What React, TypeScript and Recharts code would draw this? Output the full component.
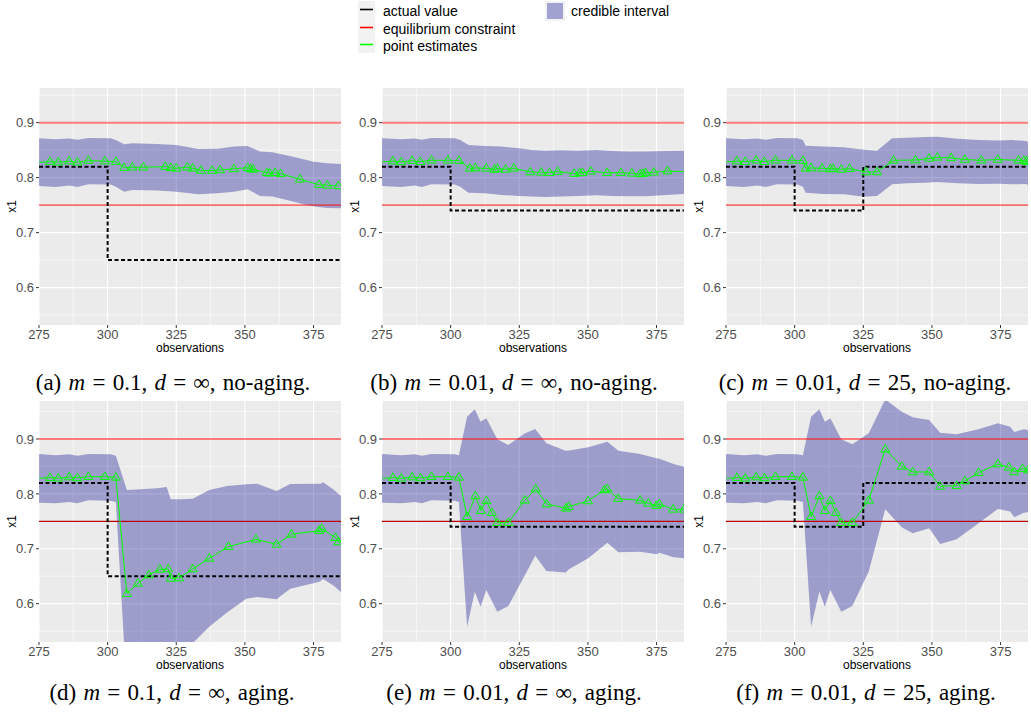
import React from 'react';
import { Area, CartesianGrid, ComposedChart, Line, ReferenceLine, XAxis, YAxis } from 'recharts';

const X_TICKS = [275, 300, 325, 350, 375];
const X_MINOR = [287.5, 312.5, 337.5, 362.5];
const Y_TICKS = [0.6, 0.7, 0.8, 0.9];
const Y_MINOR = [0.55, 0.65, 0.75, 0.85, 0.95];
const CONSTRAINT = [0.9, 0.75];

// (a) m = 0.1, d = inf, no-aging
const BAND_A_X = [275, 281, 286, 289, 293, 301, 303, 306, 309, 318, 325, 333, 340, 346, 351, 355.5, 360, 367.5, 372.5, 375, 377.5, 380, 385];
const BAND_A_HI = [0.8715, 0.8697, 0.871, 0.869, 0.872, 0.8715, 0.8685, 0.8606, 0.8624, 0.8612, 0.8594, 0.852, 0.8527, 0.8564, 0.8576, 0.8473, 0.8461, 0.838, 0.832, 0.829, 0.8275, 0.826, 0.8248];
const BAND_A_LO = [0.7848, 0.783, 0.7855, 0.783, 0.7879, 0.7873, 0.7836, 0.7745, 0.7776, 0.7764, 0.7745, 0.7697, 0.7715, 0.7745, 0.7788, 0.7667, 0.7655, 0.7564, 0.7503, 0.748, 0.746, 0.745, 0.7442];
const EST_A_X = [275, 279, 282, 286, 289, 293, 299, 303, 306, 309, 313, 321, 323, 325, 329, 331, 334, 338, 341, 346, 351, 352, 353, 358, 359, 361, 363, 370, 377, 380, 384];
const EST_A_Y = [0.828, 0.829, 0.828, 0.830, 0.828, 0.831, 0.830, 0.829, 0.818, 0.819, 0.819, 0.820, 0.818, 0.817, 0.819, 0.817, 0.813, 0.813, 0.814, 0.816, 0.818, 0.816, 0.815, 0.809, 0.808, 0.809, 0.807, 0.797, 0.787, 0.786, 0.785];

// (b) m = 0.01, d = inf, no-aging
const BAND_B_X = [275, 282, 287, 289.5, 293, 301.5, 303.5, 306.5, 312.5, 318.5, 325, 329.5, 334.5, 340.5, 346.5, 353, 359, 365, 371, 378.5, 385];
const BAND_B_HI = [0.8715, 0.8697, 0.871, 0.869, 0.872, 0.8715, 0.8685, 0.8594, 0.8576, 0.8564, 0.8533, 0.8503, 0.849, 0.8497, 0.849, 0.8503, 0.8485, 0.8473, 0.8473, 0.8485, 0.849];
const BAND_B_LO = [0.7848, 0.783, 0.7855, 0.783, 0.7879, 0.7873, 0.7836, 0.7727, 0.7715, 0.7685, 0.7667, 0.7655, 0.7648, 0.7655, 0.7667, 0.7679, 0.7667, 0.7661, 0.7661, 0.7685, 0.7703];
const EST_B_X = [275, 279, 282, 286, 289, 293, 299, 303, 307, 309, 313, 316, 317, 320, 323, 329, 333, 336, 339, 345, 347, 348, 351, 357, 362, 366, 369, 370, 371, 374, 379, 386];
const EST_B_Y = [0.8285, 0.830, 0.8285, 0.831, 0.829, 0.8315, 0.8315, 0.831, 0.817, 0.8176, 0.817, 0.815, 0.8164, 0.815, 0.817, 0.8103, 0.8097, 0.809, 0.811, 0.8073, 0.8085, 0.809, 0.8115, 0.809, 0.809, 0.8079, 0.8067, 0.8073, 0.8085, 0.8097, 0.8121, 0.8103];

// (c) m = 0.01, d = 25, no-aging
const BAND_C_X = [275, 281.5, 286.5, 289.5, 293.5, 301, 303, 304, 310.5, 318, 323, 326.5, 330, 335.5, 341, 347.5, 352, 359.5, 367, 374, 379, 384.5, 385];
const BAND_C_HI = [0.8715, 0.8697, 0.871, 0.869, 0.872, 0.8715, 0.8685, 0.8582, 0.8564, 0.8552, 0.8521, 0.8503, 0.849, 0.8715, 0.8727, 0.8739, 0.8745, 0.8709, 0.8685, 0.8673, 0.8685, 0.8667, 0.8636];
const BAND_C_LO = [0.7848, 0.783, 0.7855, 0.783, 0.7879, 0.7873, 0.7836, 0.7727, 0.7703, 0.7697, 0.7667, 0.7655, 0.7667, 0.7879, 0.7897, 0.7909, 0.7921, 0.7897, 0.7885, 0.7891, 0.7879, 0.7885, 0.7855];
const EST_C_X = [275, 279, 282, 286, 289, 293, 299, 303, 304, 306, 310, 313, 314, 317, 320, 326, 330, 336, 344, 349, 352, 357, 362, 368, 374, 381.5, 383.5, 384.5, 385];
const EST_C_Y = [0.8285, 0.830, 0.829, 0.8315, 0.829, 0.8315, 0.8315, 0.831, 0.817, 0.8176, 0.817, 0.8158, 0.8164, 0.815, 0.8164, 0.8103, 0.8103, 0.8315, 0.832, 0.835, 0.837, 0.836, 0.833, 0.8315, 0.833, 0.8315, 0.831, 0.8297, 0.8285];

// (d) m = 0.1, d = inf, aging
const BAND_D_X = [275, 281, 286, 289, 293, 301, 303, 307, 312, 318, 321.5, 323, 326.5, 331, 337, 343.5, 350.5, 354.5, 361.5, 366.5, 375, 377.5, 378.5, 382.5, 385];
const BAND_D_HI = [0.8727, 0.8702, 0.8721, 0.8696, 0.8727, 0.8721, 0.8696, 0.8071, 0.8083, 0.8101, 0.8126, 0.7901, 0.7901, 0.7913, 0.8071, 0.8144, 0.8174, 0.8186, 0.8053, 0.818, 0.8184, 0.8186, 0.8211, 0.8071, 0.7962];
const BAND_D_LO = [0.784, 0.7828, 0.7852, 0.7828, 0.7883, 0.7877, 0.7852, 0.44, 0.45, 0.46, 0.47, 0.48, 0.5, 0.528, 0.558, 0.584, 0.609, 0.612, 0.608, 0.627, 0.637, 0.641, 0.645, 0.632, 0.621];
const EST_D_X = [275, 279, 282, 286, 289, 293, 299, 303, 307, 311, 315, 319, 322, 323, 326, 331, 337, 344, 354, 361.5, 367, 377, 378, 383, 384, 386];
const EST_D_Y = [0.8284, 0.8296, 0.8284, 0.8308, 0.829, 0.8314, 0.8314, 0.8302, 0.6183, 0.6371, 0.6523, 0.6626, 0.6632, 0.6462, 0.6468, 0.6632, 0.6826, 0.7039, 0.7172, 0.7081, 0.7264, 0.733, 0.7367, 0.7203, 0.7124, 0.711];

// (e) m = 0.01, d = inf, aging
const BAND_E_X = [275, 282, 287, 289.5, 293, 301.5, 303, 306, 308.8, 310.9, 313, 317, 321, 327.1, 330.8, 334.9, 341.9, 343.1, 350.1, 357.1, 361.1, 369, 375.1, 376.1, 381.2, 385];
const BAND_E_HI = [0.8727, 0.8702, 0.8721, 0.8696, 0.8727, 0.8721, 0.8702, 0.9407, 0.954, 0.9316, 0.9376, 0.8994, 0.8891, 0.9103, 0.9182, 0.8921, 0.8787, 0.879, 0.8848, 0.8951, 0.8787, 0.8727, 0.865, 0.864, 0.8545, 0.8496];
const BAND_E_LO = [0.784, 0.7828, 0.7852, 0.7828, 0.7883, 0.7877, 0.7852, 0.5582, 0.6219, 0.5946, 0.625, 0.5855, 0.5958, 0.6523, 0.6875, 0.6596, 0.6566, 0.6627, 0.6826, 0.7112, 0.6936, 0.6948, 0.6899, 0.693, 0.6845, 0.6826];
const EST_E_X = [275, 279, 282, 286, 289, 293, 299, 303, 306, 309, 311, 313, 315, 317, 321, 327, 331, 335, 342, 343, 350, 356, 357, 361, 369, 372, 375, 376, 381, 385];
const EST_E_Y = [0.8284, 0.8296, 0.8284, 0.8308, 0.829, 0.8314, 0.8314, 0.8302, 0.7585, 0.7962, 0.7695, 0.7877, 0.7658, 0.7476, 0.7476, 0.7883, 0.8089, 0.7816, 0.7737, 0.7767, 0.7871, 0.8071, 0.8089, 0.7913, 0.7883, 0.7828, 0.7786, 0.7816, 0.7719, 0.7719];

// (f) m = 0.01, d = 25, aging
const BAND_F_X = [275, 281.5, 286.5, 289.5, 293.5, 301, 303, 306, 309, 311, 313, 317, 321, 327, 333, 339, 343, 349, 353, 359, 367, 374, 378.5, 380, 383.5, 385];
const BAND_F_HI = [0.8727, 0.8702, 0.8721, 0.8696, 0.8727, 0.8721, 0.8702, 0.9407, 0.954, 0.9316, 0.9376, 0.8994, 0.8903, 0.9103, 0.9722, 0.9497, 0.9395, 0.9346, 0.9115, 0.9085, 0.9176, 0.9285, 0.9225, 0.9128, 0.9176, 0.9164];
const BAND_F_LO = [0.784, 0.7828, 0.7852, 0.7828, 0.7883, 0.7877, 0.7852, 0.5582, 0.6219, 0.5946, 0.625, 0.5855, 0.5958, 0.6584, 0.7719, 0.7391, 0.7282, 0.7373, 0.7087, 0.7172, 0.7464, 0.7725, 0.7677, 0.7574, 0.7658, 0.7664];
const EST_F_X = [275, 279, 282, 286, 289, 293, 299, 303, 306, 309, 311, 313, 315, 317, 321, 327, 333, 339, 343, 349, 353, 359, 362, 367, 374, 378, 380, 383, 385];
const EST_F_Y = [0.8284, 0.8296, 0.8284, 0.8308, 0.829, 0.8314, 0.8314, 0.8302, 0.7585, 0.7962, 0.7695, 0.7877, 0.7658, 0.7476, 0.7476, 0.7883, 0.8812, 0.8502, 0.8399, 0.8399, 0.8138, 0.815, 0.8235, 0.8387, 0.8545, 0.8484, 0.8399, 0.846, 0.8435];

// actual value (step after each change point)
const ACTUAL_1_X = [275, 300, 385];
const ACTUAL_1_Y = [0.82, 0.65, 0.65];
const ACTUAL_2_X = [275, 300, 385];
const ACTUAL_2_Y = [0.82, 0.74, 0.74];
const ACTUAL_3_X = [275, 300, 325, 385];
const ACTUAL_3_Y = [0.82, 0.74, 0.82, 0.82];

const SANS = '"Liberation Sans", Arial, Helvetica, sans-serif';
const SERIF = '"Liberation Serif", "Times New Roman", serif';
const BAND_FILL = '#00008B';
const GREEN = '#00FF00';

function buildRows(bx: number[], lo: number[], hi: number[], ex: number[], ey: number[], ax: number[], ay: number[]) {
  const rows: any[] = [
    ...bx.map((x, i) => ({ x, band: [lo[i], hi[i]] })),
    ...ex.map((x, i) => ({ x, est: ey[i] })),
    ...ax.map((x, i) => ({ x, actual: ay[i] })),
  ];
  return rows.sort((a, b) => a.x - b.x);
}

const Triangle = (props: any) => {
  const { cx, cy, payload, index } = props;
  if (cx == null || cy == null || payload.est == null || payload.x <= 275 || payload.x > 385) {
    return <g key={`t${index}`} />;
  }
  const d = `M${cx},${cy - 4.8}L${cx + 4.5},${cy + 2.8}L${cx - 4.5},${cy + 2.8}Z`;
  return <path key={`t${index}`} d={d} fill="none" stroke={GREEN} strokeWidth={1} />;
};

const YLabel = (props: any) => {
  const { viewBox } = props;
  const x = viewBox.x + 3;
  const y = viewBox.y + viewBox.height / 2;
  return (
    <text x={x} y={y} transform={`rotate(-90, ${x}, ${y})`} textAnchor="middle" dominantBaseline="central"
      fontFamily={SANS} fontSize={12} fill="#000">x1</text>
  );
};

interface PanelProps {
  rows: any[];
  left: number;
  top: number;
  plotHeight: number;
  yDomain: number[];
  darkLower: boolean;
}

function Panel({ rows, left, top, plotHeight, yDomain, darkLower }: PanelProps) {
  const height = 8 + plotHeight + 35;
  return (
    <div style={{ position: 'absolute', left, top }}>
      <ComposedChart width={345} height={height} data={rows} margin={{ top: 8, right: 4, bottom: 5, left: 9 }}>
        <CartesianGrid fill="#EBEBEB" stroke="#FFFFFF" strokeWidth={0.55}
          horizontalValues={Y_MINOR} verticalValues={X_MINOR} />
        <CartesianGrid stroke="#FFFFFF" strokeWidth={1.1}
          horizontalValues={Y_TICKS} verticalValues={X_TICKS} />
        <XAxis dataKey="x" type="number" domain={[275, 385]} ticks={X_TICKS} allowDataOverflow
          height={30} axisLine={false} tickSize={3} tickMargin={2}
          tickLine={{ stroke: '#333333' }}
          tick={{ fill: '#4D4D4D', fontSize: 13, fontFamily: SANS }}
          label={{ value: 'observations', position: 'insideBottom', offset: 3, fill: '#000', fontSize: 12, fontFamily: SANS }} />
        <YAxis type="number" domain={yDomain} ticks={Y_TICKS} allowDataOverflow width={30}
          axisLine={false} tickSize={3} tickMargin={2}
          tickLine={{ stroke: '#333333' }}
          tick={{ fill: '#4D4D4D', fontSize: 13, fontFamily: SANS }}
          label={{ content: YLabel }} />
        <Area dataKey="band" type="linear" connectNulls stroke="none" fill={BAND_FILL} fillOpacity={0.33}
          isAnimationActive={false} />
        <ReferenceLine y={CONSTRAINT[0]} stroke="#FF0000" strokeOpacity={0.5} strokeWidth={2} />
        {darkLower
          ? <ReferenceLine y={CONSTRAINT[1]} stroke="#B80000" strokeWidth={1.1} />
          : <ReferenceLine y={CONSTRAINT[1]} stroke="#FF0000" strokeOpacity={0.55} strokeWidth={1.6} />}
        <Line dataKey="actual" type="stepAfter" connectNulls stroke="#000" strokeWidth={2}
          strokeDasharray="4 2.5" dot={false} isAnimationActive={false} />
        <Line dataKey="est" type="linear" connectNulls stroke={GREEN} strokeWidth={1}
          dot={Triangle} activeDot={false} isAnimationActive={false} />
      </ComposedChart>
    </div>
  );
}

function Caption({ center, top, letter, m, d, aging }: { center: number; top: number; letter: string; m: string; d: string; aging: string }) {
  return (
    <div style={{
      position: 'absolute', left: center - 200, top, width: 400, height: 26, lineHeight: '26px',
      textAlign: 'center', fontFamily: SERIF, fontSize: 23, wordSpacing: 1.5, color: '#000', whiteSpace: 'nowrap',
    }}>
      ({letter}) <i>m</i> = {m}, <i>d</i> = {d}, {aging}.
    </div>
  );
}

function LegendBlock() {
  const items = [
    { color: '#000000', label: 'actual value', y: 9.5 },
    { color: '#FF0000', label: 'equilibrium constraint', y: 27.5 },
    { color: GREEN, label: 'point estimates', y: 44.5 },
  ];
  return (
    <svg width={1031} height={56} style={{ position: 'absolute', left: 0, top: 0 }}>
      <rect x={358} y={1} width={17} height={52} fill="#F2F2F2" />
      {items.map((it) => (
        <g key={it.label}>
          <line x1={360} x2={373} y1={it.y} y2={it.y} stroke={it.color} strokeWidth={1.6} />
          <text x={383} y={it.y + 1.5} dominantBaseline="central" fontFamily={SANS} fontSize={14} fill="#000">{it.label}</text>
        </g>
      ))}
      <rect x={545} y={1} width={20} height={20} fill="#F2F2F2" />
      <rect x={547} y={3} width={16} height={16} fill={BAND_FILL} fillOpacity={0.33} />
      <text x={571} y={11} dominantBaseline="central" fontFamily={SANS} fontSize={14} fill="#000">credible interval</text>
    </svg>
  );
}

const TOP_DOMAIN = [0.532, 0.963];
const BOTTOM_DOMAIN = [0.5302, 0.9692];

const PANELS = [
  { letter: 'a', m: '0.1', d: '∞', aging: 'no-aging', left: 0, center: 173, row: 0,
    rows: buildRows(BAND_A_X, BAND_A_LO, BAND_A_HI, EST_A_X, EST_A_Y, ACTUAL_1_X, ACTUAL_1_Y) },
  { letter: 'b', m: '0.01', d: '∞', aging: 'no-aging', left: 343, center: 514, row: 0,
    rows: buildRows(BAND_B_X, BAND_B_LO, BAND_B_HI, EST_B_X, EST_B_Y, ACTUAL_2_X, ACTUAL_2_Y) },
  { letter: 'c', m: '0.01', d: '25', aging: 'no-aging', left: 687, center: 865, row: 0,
    rows: buildRows(BAND_C_X, BAND_C_LO, BAND_C_HI, EST_C_X, EST_C_Y, ACTUAL_3_X, ACTUAL_3_Y) },
  { letter: 'd', m: '0.1', d: '∞', aging: 'aging', left: 0, center: 172, row: 1,
    rows: buildRows(BAND_D_X, BAND_D_LO, BAND_D_HI, EST_D_X, EST_D_Y, ACTUAL_1_X, ACTUAL_1_Y) },
  { letter: 'e', m: '0.01', d: '∞', aging: 'aging', left: 343, center: 514, row: 1,
    rows: buildRows(BAND_E_X, BAND_E_LO, BAND_E_HI, EST_E_X, EST_E_Y, ACTUAL_2_X, ACTUAL_2_Y) },
  { letter: 'f', m: '0.01', d: '25', aging: 'aging', left: 687, center: 866, row: 1,
    rows: buildRows(BAND_F_X, BAND_F_LO, BAND_F_HI, EST_F_X, EST_F_Y, ACTUAL_3_X, ACTUAL_3_Y) },
];

export default function App() {
  return (
    <div style={{ position: 'absolute', left: 0, top: 0, width: 1031, height: 718, background: '#fff', overflow: 'hidden' }}>
      <LegendBlock />
      {PANELS.map((p) => (
        <React.Fragment key={p.letter}>
          <Panel rows={p.rows} left={p.left} top={p.row === 0 ? 80 : 393}
            plotHeight={p.row === 0 ? 237 : 241}
            yDomain={p.row === 0 ? TOP_DOMAIN : BOTTOM_DOMAIN}
            darkLower={p.row === 1} />
          <Caption center={p.center} top={p.row === 0 ? 370 : 680} letter={p.letter} m={p.m} d={p.d} aging={p.aging} />
        </React.Fragment>
      ))}
    </div>
  );
}
